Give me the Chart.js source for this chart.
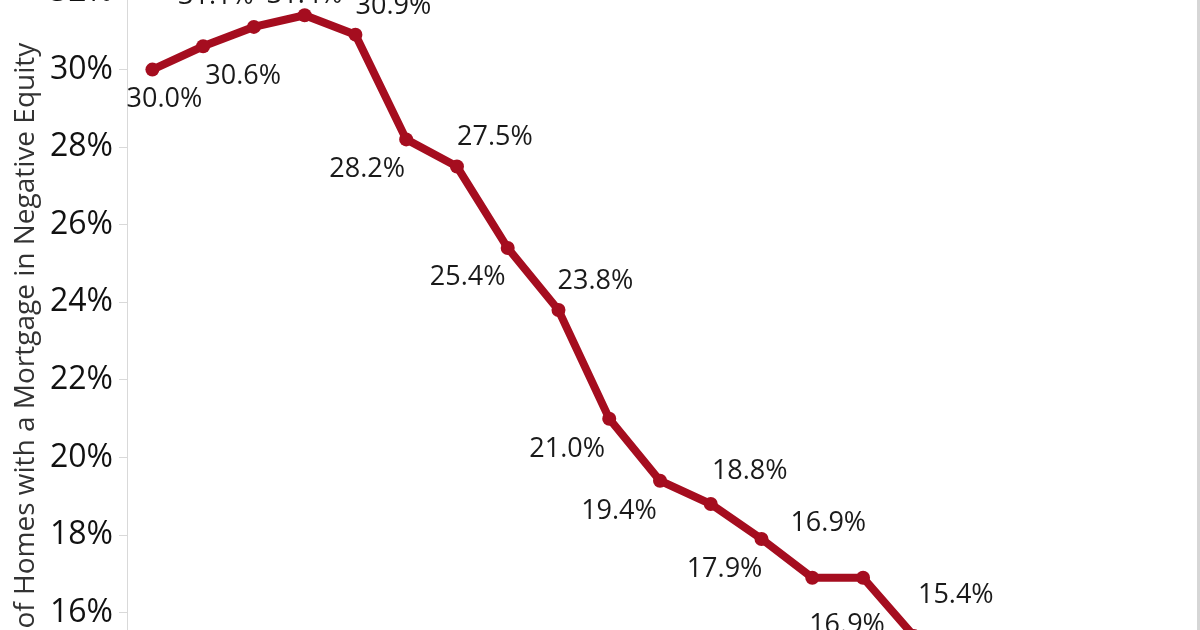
<!DOCTYPE html>
<html>
<head>
<meta charset="utf-8">
<script src="https://cdn.jsdelivr.net/npm/chart.js@4/dist/chart.umd.min.js"></script>
<style>
  html, body { margin: 0; padding: 0; background: #ffffff; overflow: hidden; }
  #wrap { position: relative; width: 1200px; height: 630px; overflow: hidden; background: #ffffff; }
  #c { position: absolute; left: 0; top: -47.6px; }
  #edge { position: absolute; right: 0; top: 0; width: 3px; height: 630px; background: #d6d6d6; }
</style>
</head>
<body>
<div id="wrap">
  <canvas id="c" width="1200" height="800"></canvas>
  <div id="edge"></div>
</div>
<script>
// Quarters (x axis is not visible in the reference)
const quarters = ["Q2 2011","Q3 2011","Q4 2011","Q1 2012","Q2 2012","Q3 2012","Q4 2012",
  "Q1 2013","Q2 2013","Q3 2013","Q4 2013","Q1 2014","Q2 2014","Q3 2014","Q4 2014",
  "Q1 2015","Q2 2015","Q3 2015","Q4 2015","Q1 2016","Q2 2016"];
// % of homes with a mortgage in negative equity (visible points)
const negativeEquity = [30.0, 30.6, 31.1, 31.4, 30.9, 28.2, 27.5, 25.4, 23.8, 21.0, 19.4, 18.8, 17.9, 16.9, 16.9, 15.4];
const yTitle = "% of Homes with a Mortgage in Negative Equity";

// label placement offsets (px) relative to each point
const labelOffsets = [
  [12, 30], [40, 30], [-38, -31], [0, -20], [38, -28], [-39, 30], [38, -29], [-40, 29],
  [37, -29], [-42, 31], [-41, 31], [39, -33], [-37, 30], [16, -54], [-16, 48], [42, -41]
];

const pointLabels = {
  id: 'pointLabels',
  afterDatasetsDraw(chart) {
    const ctx = chart.ctx;
    const meta = chart.getDatasetMeta(0);
    ctx.save();
    ctx.font = '27px "Open Sans"';
    ctx.fillStyle = '#1a1a1a';
    ctx.textAlign = 'center';
    ctx.textBaseline = 'middle';
    meta.data.forEach((pt, i) => {
      const v = chart.data.datasets[0].data[i];
      const off = labelOffsets[i] || [0, -30];
      ctx.fillText(v.toFixed(1) + '%', pt.x + off[0], pt.y + off[1]);
    });
    ctx.restore();
  }
};

const red = '#a50d1f';
new Chart(document.getElementById('c'), {
  type: 'line',
  data: {
    labels: quarters,
    datasets: [{
      data: negativeEquity,
      borderColor: red,
      backgroundColor: red,
      borderWidth: 8,
      pointRadius: 7,
      pointBackgroundColor: red,
      pointBorderColor: red,
      pointBorderWidth: 0,
      tension: 0,
      clip: false
    }]
  },
  options: {
    responsive: false,
    animation: false,
    devicePixelRatio: 1,
    layout: { padding: { top: 40, bottom: 42.4, left: 0, right: 1 } },
    plugins: { legend: { display: false }, tooltip: { enabled: false } },
    scales: {
      x: { display: false, offset: true },
      y: {
        min: 13.5,
        max: 32,
        afterFit(scale) { scale.width = 127; },
        ticks: {
          stepSize: 2,
          padding: 6,
          color: '#111111',
          font: { family: '"Open Sans"', size: 32 },
          callback: v => v + '%'
        },
        grid: { drawOnChartArea: false, drawTicks: true, tickLength: 8, color: '#d9d9d9' },
        border: { display: true, color: '#d9d9d9', width: 1 },
        title: {
          display: true,
          text: yTitle,
          color: '#333333',
          font: { family: '"Open Sans"', size: 28 },
          padding: { top: 9, bottom: 0 }
        }
      }
    }
  },
  plugins: [pointLabels]
});
</script>
</body>
</html>
